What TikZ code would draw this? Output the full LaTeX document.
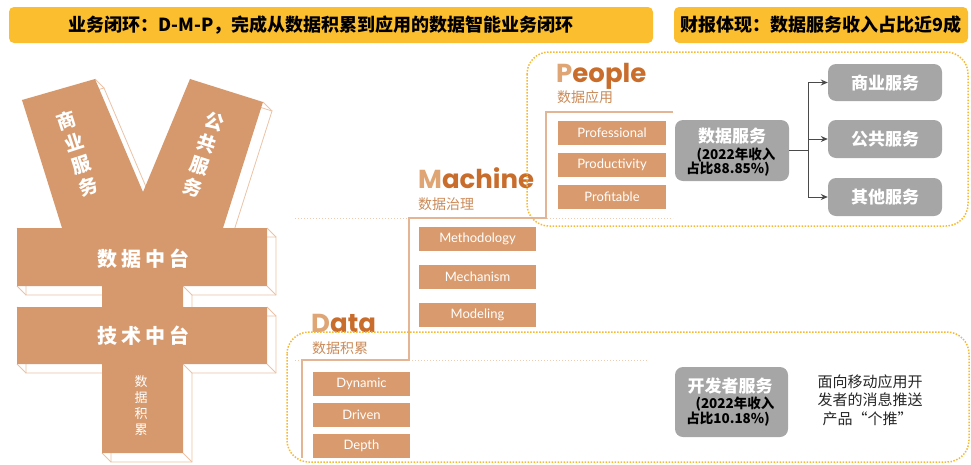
\documentclass[tikz,border=0pt]{standalone}
\usepackage{fontspec}
\setmainfont{Noto Sans CJK SC}
\newfontfamily\lbl{Lato}
\newfontfamily\ttl{Poppins}
\newfontfamily\widecjk{Noto Sans CJK SC}[LetterSpace=20]
\usetikzlibrary{arrows.meta}

\definecolor{banner}{HTML}{FBBE2E}
\definecolor{yen}{HTML}{D6996D}
\definecolor{yenedge}{HTML}{EBC3A6}
\definecolor{tilefill}{HTML}{D99B6E}
\definecolor{bracket}{HTML}{E3B594}
\definecolor{guide}{HTML}{EDCAB0}
\definecolor{frame}{HTML}{F7B933}
\definecolor{ttllight}{HTML}{DFA574}
\definecolor{ttldark}{HTML}{C96D2C}
\definecolor{subt}{HTML}{CB8A58}
\definecolor{gboxfill}{HTML}{A6A6A6}
\definecolor{wire}{HTML}{4A4A4A}

\newcommand{\yenoutline}[1]{%
  \path[#1] (22,100) -- (95,79) -- (143,192) -- (190,79) -- (263,102)
    -- (223,228) -- (267,228) -- (267,286) -- (183,286) -- (183,307)
    -- (267,307) -- (267,364) -- (183,364) -- (183,453) -- (102,453)
    -- (102,364) -- (17,364) -- (17,307) -- (102,307) -- (102,286)
    -- (17,286) -- (17,228) -- (62,228) -- cycle;}

\tikzset{
  bannerbox/.style={fill=banner, rounded corners=5pt, inner sep=0pt,
    font=\bfseries\fontsize{18}{20}\selectfont},
  tilebox/.style={fill=tilefill, text=white, inner sep=0pt, minimum height=24pt,
    font=\lbl\fontsize{13}{14}\selectfont},
  ptile/.style={tilebox, minimum width=108pt},
  mtile/.style={tilebox, minimum width=117pt},
  dtile/.style={tilebox, minimum width=97pt},
  gbox/.style={fill=gboxfill, rounded corners=8pt, inner sep=0pt, text=white,
    font=\bfseries\fontsize{17}{20}\selectfont},
  note/.style={inner sep=0pt, font=\bfseries\fontsize{13.5}{15}\selectfont},
  armtext/.style={inner sep=0pt, text=white, align=center,
    font=\bfseries\fontsize{19}{23.3}\selectfont},
  bartext/.style={inner sep=0pt, text=white, font=\widecjk\bfseries\fontsize{20}{22}\selectfont},
  stemtext/.style={inner sep=0pt, text=white, align=center, font=\fontsize{13}{16}\selectfont},
  titletext/.style={anchor=base west, inner sep=0pt, font=\ttl\bfseries\fontsize{26}{30}\selectfont},
  subtext/.style={anchor=west, inner sep=0pt, text=subt, font=\fontsize{14}{16}\selectfont},
  stair/.style={draw=bracket, line width=1.2pt},
  guideline/.style={draw=guide, line width=1pt, dash pattern=on 1pt off 2pt},
  dotframe/.style={draw=frame, line width=1.5pt, dash pattern=on 1.5pt off 1.5pt, rounded corners=22pt},
  wirearrow/.style={draw=wire, line width=1pt, -{Stealth[length=7pt,width=6pt]}},
}

\begin{document}
\begin{tikzpicture}[x=1pt, y=-1pt]
\useasboundingbox (0,0) rectangle (971,464);

% header banners
\node[bannerbox, minimum width=644pt, minimum height=36pt] (bannerL) at (331,25) {};
\node[inner sep=0pt, font=\bfseries\fontsize{18}{20}\selectfont] (bannerLtext) at (321,25) {业务闭环：D-M-P，完成从数据积累到应用的数据智能业务闭环};
\node[bannerbox, minimum width=294pt, minimum height=36pt] (bannerR) at (821,25) {财报体现：数据服务收入占比近9成};

% extruded yen sign: back face, corner edges, front face
\begin{scope}[shift={(9,9)}]
  \yenoutline{fill=white, draw=yenedge, line width=0.8pt}
\end{scope}
\foreach \x/\y in {22/100, 95/79, 190/79, 263/102, 223/228, 267/228, 267/286,
                   183/286, 183/307, 267/307, 267/364, 183/364, 183/453, 102/453,
                   102/364, 17/364, 17/307, 102/307, 102/286, 17/286, 17/228}
  \draw[yenedge, line width=0.8pt] (\x,\y) -- ++(9,9);
\yenoutline{fill=yen}

% yen labels
\node[armtext, rotate=18] (armleft) at (77.5,153.5) {商\\业\\服\\务};
\node[armtext, rotate=-18] (armright) at (203.5,154.5) {公\\共\\服\\务};
\node[bartext] (bar1) at (143,259) {数据中台};
\node[bartext] (bar2) at (143,336) {技术中台};
\node[stemtext] (stem) at (141,406) {数\\据\\积\\累};

% dotted guide lines and staircase
\draw[guideline] (295,218) -- (673,218);
\draw[guideline] (295,360) -- (647,360);
\draw[stair] (673,112) -- (546,112) -- (546,218) -- (409,218) -- (409,360)
  -- (302,360) -- (302,458);

% stage titles
\node[titletext] (people) at (556,82) {\textcolor{ttllight}{P}\textcolor{ttldark}{eople}};
\node[subtext] (peoplesub) at (557,97) {数据应用};
\node[titletext] (machine) at (418,188) {\textcolor{ttllight}{M}\textcolor{ttldark}{achine}};
\node[subtext] (machinesub) at (418,204) {数据治理};
\node[titletext] (data) at (311,332) {\textcolor{ttllight}{D}\textcolor{ttldark}{ata}};
\node[subtext] (datasub) at (312,348) {数据积累};

% stage tiles
\node[ptile] (p1) at (612,133) {Professional};
\node[ptile] (p2) at (612,165) {Productivity};
\node[ptile] (p3) at (612,196.5) {Profitable};
\node[mtile] (m1) at (477.5,239) {Methodology};
\node[mtile] (m2) at (477.5,277) {Mechanism};
\node[mtile] (m3) at (477.5,315) {Modeling};
\node[dtile] (d1) at (361.5,383.5) {Dynamic};
\node[dtile] (d2) at (361.5,415) {Driven};
\node[dtile] (d3) at (361.5,446) {Depth};

% dotted frames
\draw[dotframe] (527,52) rectangle (968,226);
\draw[dotframe] (287,332) rectangle (969,462);

% data services
\node[gbox, minimum width=114pt, minimum height=61pt] (ds) at (732,150.5) {};
\node[inner sep=0pt, text=white, font=\bfseries\fontsize{17}{20}\selectfont] (dsname) at (732,136) {数据服务};
\node[note] (dsnote1) at (736,155) {(2022年收入};
\node[note] (dsnote2) at (728,169) {占比88.85\%)};

\node[gbox, minimum width=114pt, minimum height=37pt] (b1) at (885,82.5) {商业服务};
\node[gbox, minimum width=114pt, minimum height=38pt] (b2) at (885,139) {公共服务};
\node[gbox, minimum width=114pt, minimum height=38pt] (b3) at (885,197) {其他服务};

\coordinate (fork) at (808,150.5);
\draw[wire, line width=1pt] (ds.east) -- (fork);
\draw[wirearrow] (fork) |- (b1.west);
\draw[wirearrow] (fork) |- (b2.west);
\draw[wirearrow] (fork) |- (b3.west);

% developer services
\node[gbox, minimum width=113pt, minimum height=70pt] (dev) at (731.5,402) {};
\node[inner sep=0pt, text=white, font=\bfseries\fontsize{17}{20}\selectfont] (devname) at (730,386) {开发者服务};
\node[note] (devnote1) at (735,404) {(2022年收入};
\node[note] (devnote2) at (728,419) {占比10.18\%)};
\node[inner sep=0pt, align=left, text=black!85, font=\fontsize{15}{18.5}\selectfont] (devdesc) at (870,400)
  {面向移动应用开\\发者的消息推送\\\hspace*{5pt}产品“个推”};

\end{tikzpicture}
\end{document}
